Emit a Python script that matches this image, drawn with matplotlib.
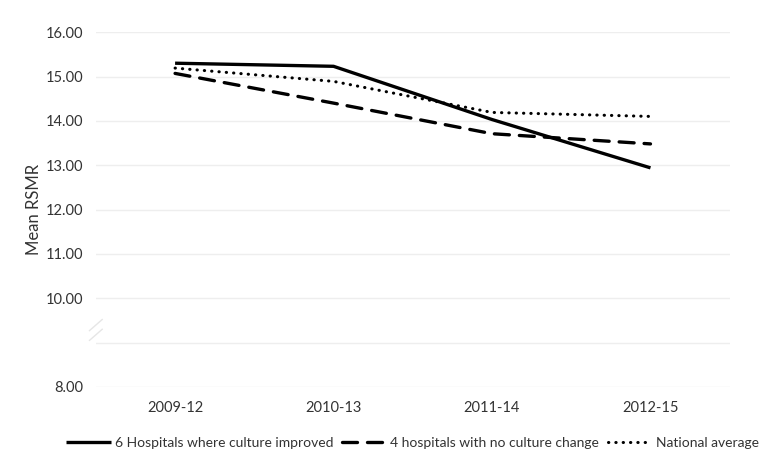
import matplotlib.pyplot as plt

periods = ["2009-12", "2010-13", "2011-14", "2012-15"]
improved = [15.30, 15.23, 14.03, 12.94]
no_change = [15.07, 14.40, 13.71, 13.48]
national = [15.19, 14.89, 14.19, 14.10]

yticks = [8, 10, 11, 12, 13, 14, 15, 16]
grid_y = [8, 9, 10, 11, 12, 13, 14, 15, 16]

plt.rcParams['font.family'] = ['Lato', 'DejaVu Sans']
txt = "#333333"

fig = plt.figure(figsize=(7.73, 4.73), dpi=100)
ax = fig.add_axes([0.124, 0.182, 0.82, 0.750])

x = range(len(periods))
ax.plot(x, improved, color="black", lw=2.4, solid_capstyle="butt",
        label="6 Hospitals where culture improved")
ax.plot(x, no_change, color="black", lw=2.4, dashes=(4.5, 3), dash_capstyle="round",
        label="4 hospitals with no culture change")
ax.plot(x, national, color="black", lw=2.2, dashes=(0.1, 2.3), dash_capstyle="round",
        label="National average")

ax.set_xlim(-0.5, 3.5)
ax.set_ylim(8, 16)
for g in grid_y:
    ax.axhline(g, color="#eeeeee", lw=1, zorder=0)
ax.set_yticks(yticks)
ax.set_yticklabels([f"{v:.2f}" for v in yticks])
ax.set_xticks(list(x))
ax.set_xticklabels(periods)
ax.tick_params(length=0, labelsize=10.5, colors=txt, pad=10)
ax.tick_params(axis="y", pad=9)
for s in ax.spines.values():
    s.set_visible(False)
ax.set_ylabel("Mean RSMR", fontsize=12, color=txt, labelpad=3)

# axis break marks
for dy in (0, 0.22):
    ax.plot([-0.54, -0.46], [9.05 + dy, 9.3 + dy], transform=ax.transData,
            color="#e6e6e6", lw=1, clip_on=False)

leg = ax.legend(loc="upper center", bbox_to_anchor=(0.5, -0.105), ncol=3,
                frameon=False, fontsize=10, handlelength=3.2, handletextpad=0.3,
                columnspacing=0.6)
for t in leg.get_texts():
    t.set_color(txt)

fig.savefig("out.png", dpi=100)
